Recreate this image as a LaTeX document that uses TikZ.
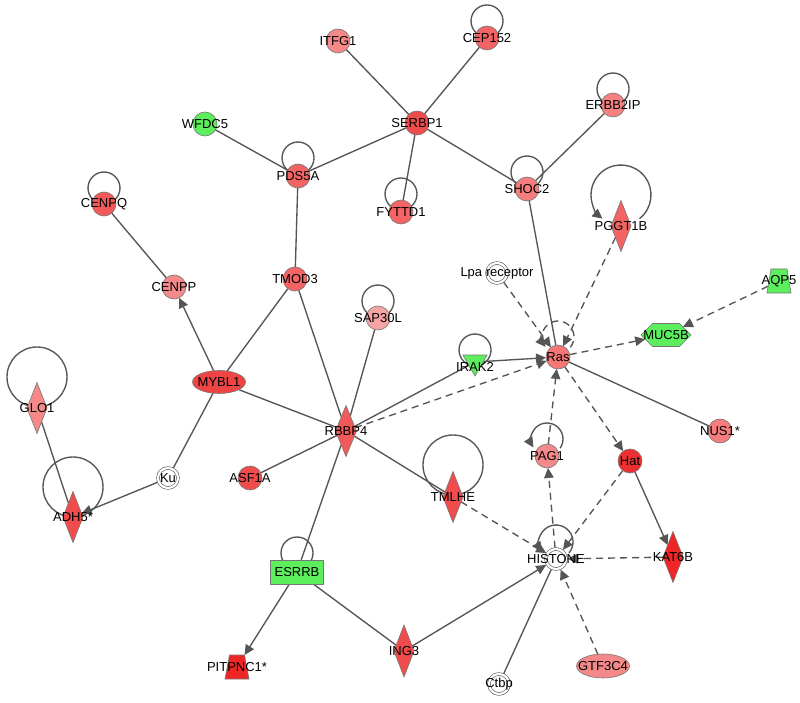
\documentclass[tikz,border=0pt]{standalone}
\usepackage{fontspec}
\setmainfont{Liberation Sans}
\usetikzlibrary{shapes.geometric,shapes.symbols,arrows.meta,calc}
\definecolor{edgec}{HTML}{555555}
\definecolor{bordc}{HTML}{777777}
\definecolor{dblc}{HTML}{555555}
\definecolor{rA}{HTML}{F58888}
\definecolor{rB}{HTML}{F46464}
\definecolor{rC}{HTML}{F04C4C}
\definecolor{rD}{HTML}{EC3030}
\definecolor{rL}{HTML}{F7A4A4}
\definecolor{gN}{HTML}{5CEE5C}
\begin{document}
\begin{tikzpicture}[x=1pt,y=-1pt,
 every node/.style={inner sep=0pt, outer sep=0pt},
 gcirc/.style={circle, minimum size=24pt, draw=bordc, line width=0.6pt},
 dia/.style={diamond, minimum width=20pt, minimum height=51pt, draw=bordc, line width=0.6pt},
 ell/.style={ellipse, minimum width=53pt, minimum height=23pt, draw=bordc, line width=0.6pt},
 dbl/.style={circle, minimum size=20pt, draw=dblc, fill=white, line width=0.6pt, double=white, double distance=2.2pt},
 anch/.style={rectangle, minimum width=22pt, minimum height=24pt},
 lbl/.style={font=\fontsize{13}{15}\selectfont, text=black},
 conn/.style={draw=edgec, line width=1.35pt},
 arr/.style={conn, -{Triangle[length=10pt,width=9.5pt]}},
 darr/.style={arr, dash pattern=on 7pt off 5pt},
 loopc/.style={draw=edgec, line width=1.35pt},
]
\useasboundingbox (0,0) rectangle (800,703);
\fill[white] (0,0) rectangle (800,703);

% ---------- node positions ----------
\path
 (338,41)  coordinate (pITFG1)
 (487,38)  coordinate (pCEP152)
 (417,123) coordinate (pSERBP1)
 (205,124) coordinate (pWFDC5)
 (298,176) coordinate (pPDS5A)
 (613,105) coordinate (pERBB2IP)
 (527,189) coordinate (pSHOC2)
 (401,212) coordinate (pFYTTD1)
 (104,204) coordinate (pCENPQ)
 (621,226) coordinate (pPGGT1B)
 (497,273) coordinate (pLpa)
 (779,281) coordinate (pAQP5)
 (174,287) coordinate (pCENPP)
 (295,279) coordinate (pTMOD3)
 (378,318) coordinate (pSAP30L)
 (666,335) coordinate (pMUC5B)
 (558,357) coordinate (pRas)
 (475,362) coordinate (pIRAK2)
 (219,382) coordinate (pMYBL1)
 (37,408)  coordinate (pGLO1)
 (346,431) coordinate (pRBBP4)
 (720,431) coordinate (pNUS1)
 (547,456) coordinate (pPAG1)
 (630,461) coordinate (pHat)
 (168,478) coordinate (pKu)
 (250,478) coordinate (pASF1A)
 (453,497) coordinate (pTMLHE)
 (73,517)  coordinate (pADH5)
 (556,559) coordinate (pHISTONE)
 (673,557) coordinate (pKAT6B)
 (297,572) coordinate (pESRRB)
 (404,651) coordinate (pING3)
 (603,666) coordinate (pGTF3C4)
 (237,667) coordinate (pPITPNC1)
 (499,684) coordinate (pCtbp);

% invisible anchors for edges
\path
 (pITFG1) node[circle,minimum size=24pt] (ITFG1) {}
 (pCEP152) node[circle,minimum size=24pt] (CEP152) {}
 (pSERBP1) node[circle,minimum size=24pt] (SERBP1) {}
 (pWFDC5) node[circle,minimum size=24pt] (WFDC5) {}
 (pPDS5A) node[circle,minimum size=24pt] (PDS5A) {}
 (pERBB2IP) node[circle,minimum size=24pt] (ERBB2IP) {}
 (pSHOC2) node[circle,minimum size=24pt] (SHOC2) {}
 (pFYTTD1) node[circle,minimum size=24pt] (FYTTD1) {}
 (pCENPQ) node[circle,minimum size=24pt] (CENPQ) {}
 (pPGGT1B) node[diamond,minimum width=20pt,minimum height=51pt] (PGGT1B) {}
 (pLpa) node[circle,minimum size=23pt] (Lpa) {}
 (pAQP5) node[anch] (AQP5) {}
 (pCENPP) node[circle,minimum size=24pt] (CENPP) {}
 (pTMOD3) node[circle,minimum size=24pt] (TMOD3) {}
 (pSAP30L) node[circle,minimum size=24pt] (SAP30L) {}
 (pMUC5B) node[signal, signal to=east and west, minimum width=50pt, minimum height=23pt] (MUC5B) {}
 (pRas) node[circle,minimum size=24pt] (Ras) {}
 (pIRAK2) node[regular polygon, regular polygon sides=3, shape border rotate=180, minimum size=28pt] (IRAK2) {}
 (pMYBL1) node[ellipse,minimum width=53pt,minimum height=23pt] (MYBL1) {}
 (pGLO1) node[diamond,minimum width=20pt,minimum height=51pt] (GLO1) {}
 (pRBBP4) node[diamond,minimum width=21pt,minimum height=51pt] (RBBP4) {}
 (pNUS1) node[circle,minimum size=24pt] (NUS1) {}
 (pPAG1) node[circle,minimum size=24pt] (PAG1) {}
 (pHat) node[circle,minimum size=24pt] (Hat) {}
 (pKu) node[circle,minimum size=23pt] (Ku) {}
 (pASF1A) node[circle,minimum size=24pt] (ASF1A) {}
 (pTMLHE) node[diamond,minimum width=20pt,minimum height=51pt] (TMLHE) {}
 (pADH5) node[diamond,minimum width=20pt,minimum height=51pt] (ADH5) {}
 (pHISTONE) node[circle,minimum size=23pt] (HISTONE) {}
 (pKAT6B) node[diamond,minimum width=20pt,minimum height=51pt] (KAT6B) {}
 (pESRRB) node[rectangle,minimum width=53pt,minimum height=24pt] (ESRRB) {}
 (pING3) node[diamond,minimum width=20pt,minimum height=52pt] (ING3) {}
 (pGTF3C4) node[ellipse,minimum width=53pt,minimum height=24pt] (GTF3C4) {}
 (pPITPNC1) node[anch] (PITPNC1) {}
 (pCtbp) node[circle,minimum size=23pt] (Ctbp) {};

% ---------- edges ----------
\foreach \a/\b in {ITFG1/SERBP1, CEP152/SERBP1, SERBP1/PDS5A, SERBP1/FYTTD1,
  SERBP1/SHOC2, WFDC5/PDS5A, PDS5A/TMOD3, ERBB2IP/SHOC2, SHOC2/Ras,
  CENPQ/CENPP, MYBL1/TMOD3, TMOD3/RBBP4, SAP30L/RBBP4, MYBL1/RBBP4,
  MYBL1/Ku, GLO1/ADH5, RBBP4/IRAK2, RBBP4/ASF1A, RBBP4/TMLHE, RBBP4/ESRRB,
  ESRRB/ING3, Ctbp/HISTONE, Ras/NUS1}
  \draw[conn] (\a) -- (\b);
\foreach \a/\b in {MYBL1/CENPP, Ku/ADH5, IRAK2/Ras, ESRRB/PITPNC1,
  ING3/HISTONE, Hat/KAT6B}
  \draw[arr] (\a) -- (\b);
\foreach \a/\b in {RBBP4/Ras, TMLHE/HISTONE, GTF3C4/HISTONE, KAT6B/HISTONE,
  Hat/HISTONE, Ras/Hat, Ras/MUC5B, AQP5/MUC5B, PGGT1B/Ras, Lpa/Ras,
  PAG1/Ras, HISTONE/PAG1}
  \draw[darr] (\a) -- (\b);

% ---------- self loops ----------
\draw[loopc] (487,21) circle[radius=16];
\draw[loopc] (298,158) circle[radius=16];
\draw[loopc] (613,89) circle[radius=16];
\draw[loopc] (527,172) circle[radius=16];
\draw[loopc] (401,194) circle[radius=16];
\draw[loopc] (104,188) circle[radius=16];
\draw[loopc] (378,301) circle[radius=16];
\draw[loopc] (475,350) circle[radius=16];
\draw[loopc] (297,553) circle[radius=16];
\draw[loopc] (37,377) circle[radius=30];
\draw[loopc] (453,465) circle[radius=30];
\draw[loopc] (73,487) circle[radius=30];
\draw[arr] (621,195) ++(52:30) arc[start angle=52, end angle=-232, radius=30];
\draw[darr] (558,337) ++(40:16) arc[start angle=40, end angle=-218, radius=16];
\draw[arr] (547,439) ++(35:16) arc[start angle=35, end angle=-212, radius=16];
\draw[arr] (556,542) ++(40:17) arc[start angle=40, end angle=-215, radius=17];

% ---------- visible shapes ----------
\node[gcirc, fill=rA] at (pITFG1) {};
\node[gcirc, fill=rB] at (pCEP152) {};
\node[gcirc, fill=rC] at (pSERBP1) {};
\node[gcirc, fill=gN] at (pWFDC5) {};
\node[gcirc, fill=rB] at (pPDS5A) {};
\node[gcirc, fill=rA!80!rB] at (pERBB2IP) {};
\node[gcirc, fill=rA!70!rB] at (pSHOC2) {};
\node[gcirc, fill=rB] at (pFYTTD1) {};
\node[gcirc, fill=rB!60!rC] at (pCENPQ) {};
\node[dia, fill=rB] at (pPGGT1B) {};
\node[dbl] at (pLpa) {};
\path[draw=bordc, line width=0.6pt, fill=gN] (pAQP5) ++(-12,12) -- ++(24,0) -- ++(-4,-24) -- ++(-16,0) -- cycle;
\node[gcirc, fill=rA] at (pCENPP) {};
\node[gcirc, fill=rB] at (pTMOD3) {};
\node[gcirc, fill=rL] at (pSAP30L) {};
\node[signal, signal to=east and west, minimum width=50pt, minimum height=23pt, draw=bordc, line width=0.6pt, fill=gN] at (pMUC5B) {};
\node[gcirc, fill=rA!50!rB] at (pRas) {};
\node[regular polygon, regular polygon sides=3, shape border rotate=180, minimum size=28pt, draw=bordc, line width=0.6pt, fill=gN] at (pIRAK2) {};
\node[ell, fill=rC!70!rD] at (pMYBL1) {};
\node[dia, fill=rA] at (pGLO1) {};
\node[dia, minimum width=21pt, fill=rB!60!rC] at (pRBBP4) {};
\node[gcirc, fill=rA!70!rB] at (pNUS1) {};
\node[gcirc, fill=rA] at (pPAG1) {};
\node[gcirc, fill=rD] at (pHat) {};
\node[dbl] at (pKu) {};
\node[gcirc, fill=rC] at (pASF1A) {};
\node[dia, fill=rC] at (pTMLHE) {};
\node[dia, fill=rC] at (pADH5) {};
\node[dbl] at (pHISTONE) {};
\node[dia, fill=rD!80!red] at (pKAT6B) {};
\node[rectangle, minimum width=53pt, minimum height=24pt, draw=bordc, line width=0.6pt, fill=gN] at (pESRRB) {};
\node[dia, minimum height=52pt, fill=rC] at (pING3) {};
\node[ell, minimum height=24pt, fill=rA] at (pGTF3C4) {};
\path[draw=bordc, line width=0.6pt, fill=rD!80!red] (pPITPNC1) ++(-12,12) -- ++(24,0) -- ++(-4.5,-24) -- ++(-15,0) -- cycle;
\node[dbl] at (pCtbp) {};

% ---------- labels ----------
\foreach \p/\t in {pITFG1/ITFG1, pCEP152/CEP152, pSERBP1/SERBP1, pWFDC5/WFDC5,
  pPDS5A/PDS5A, pERBB2IP/ERBB2IP, pSHOC2/SHOC2, pFYTTD1/FYTTD1, pCENPQ/CENPQ,
  pPGGT1B/PGGT1B, pLpa/Lpa receptor, pAQP5/AQP5, pCENPP/CENPP, pTMOD3/TMOD3,
  pSAP30L/SAP30L, pMUC5B/MUC5B, pRas/Ras, pMYBL1/MYBL1, pGLO1/GLO1,
  pRBBP4/RBBP4, pNUS1/NUS1*, pPAG1/PAG1, pHat/Hat, pKu/Ku, pASF1A/ASF1A,
  pTMLHE/TMLHE, pADH5/ADH5*, pHISTONE/HISTONE, pKAT6B/KAT6B, pESRRB/ESRRB,
  pING3/ING3, pGTF3C4/GTF3C4, pPITPNC1/PITPNC1*, pCtbp/Ctbp}
  \node[lbl] at (\p) {\t};
\node[lbl] at ($(pIRAK2)+(0,5)$) {IRAK2};
\end{tikzpicture}
\end{document}
